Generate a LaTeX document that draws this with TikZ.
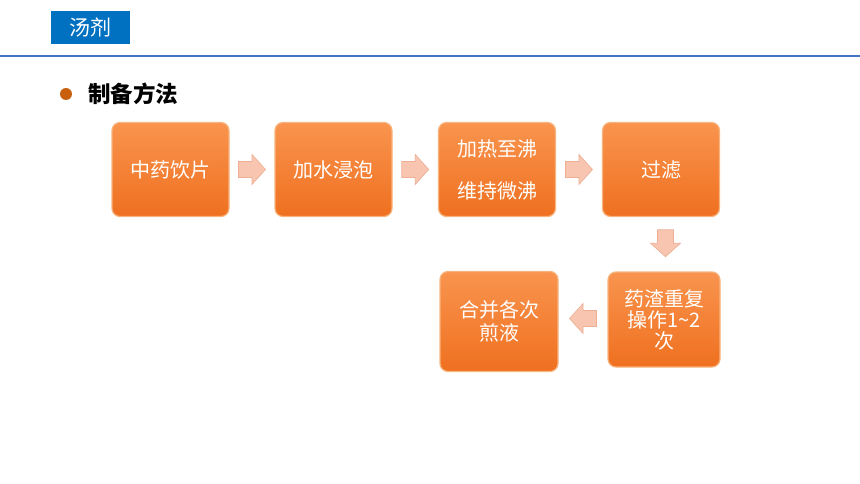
\documentclass[tikz,border=0pt]{standalone}
\usepackage{fontspec}
\setmainfont{Noto Sans CJK SC}
\usetikzlibrary{calc}
\definecolor{titleblue}{HTML}{0070C0}
\definecolor{lineblue}{HTML}{4472C4}
\definecolor{bulletor}{HTML}{C8600E}
\definecolor{boxtop}{HTML}{F9944E}
\definecolor{boxbot}{HTML}{EF7020}
\definecolor{boxedge}{HTML}{F8B47E}
\definecolor{arrfill}{HTML}{F8C6B0}
\definecolor{arredge}{HTML}{EDAE92}
\tikzset{
  stepbox/.style={rectangle, rounded corners=8pt, minimum width=117pt, minimum height=94pt,
    top color=boxtop, bottom color=boxbot, draw=boxedge, line width=1.2pt,
    text=white, font=\fontsize{20pt}{22pt}\selectfont, align=center, inner sep=0pt},
  blockarrow/.style={fill=arrfill, draw=arredge, line width=0.6pt},
}
\newcommand{\blockarrowshape}{(-13.5,-8) -- (0,-8) -- (0,-15) -- (13.5,0) -- (0,15) -- (0,8) -- (-13.5,8) -- cycle}
\begin{document}
\begin{tikzpicture}[x=1pt,y=-1pt]
\useasboundingbox[fill=white] (0,0) rectangle (860,484);
% header
\node[fill=titleblue, minimum width=79pt, minimum height=33pt, inner sep=0pt, text=white,
  font=\fontsize{21pt}{24pt}\selectfont] (title) at (90.5,27.5) {汤剂};
\draw[lineblue, line width=1.2pt] (0,56) -- (860,56);
% bullet
\node[circle, fill=bulletor, minimum size=12pt, inner sep=0pt] (bul) at (66,94) {};
\node[anchor=west, font=\fontsize{22.5pt}{24pt}\selectfont\bfseries, inner sep=0pt] (head) at (88,94) {制备方法};
% boxes
\node[stepbox] (b1) at (170.5,169.5) {中药饮片};
\node[stepbox] (b2) at (333.5,169.5) {加水浸泡};
\node[stepbox, font=\fontsize{20pt}{42pt}\selectfont] (b3) at (497,169.5) {加热至沸\\维持微沸};
\node[stepbox] (b4) at (661,169.5) {过滤};
\node[stepbox, minimum width=112pt, minimum height=95pt, font=\fontsize{20pt}{21pt}\selectfont] (b5) at (664,319.5) {药渣重复\\操作1\textasciitilde2\\次};
\node[stepbox, minimum width=118pt, minimum height=100pt, font=\fontsize{20pt}{23pt}\selectfont] (b6) at (499,321.5) {合并各次\\煎液};
% block arrows
\coordinate (a12) at ($(b1.east)!0.5!(b2.west)$);
\coordinate (a23) at ($(b2.east)!0.5!(b3.west)$);
\coordinate (a34) at ($(b3.east)!0.5!(b4.west)$);
\coordinate (a45) at ($(b4.south)!0.5!(b5.north)+(3,-1)$);
\coordinate (a56) at ($(b5.west)!0.5!(b6.east)+(0,-2)$);
\draw[blockarrow, shift={(a12)}] \blockarrowshape;
\draw[blockarrow, shift={(a23)}] \blockarrowshape;
\draw[blockarrow, shift={(a34)}] \blockarrowshape;
\draw[blockarrow, shift={(a45)}, rotate=-90] \blockarrowshape;
\draw[blockarrow, shift={(a56)}, rotate=180] \blockarrowshape;
\end{tikzpicture}
\end{document}
